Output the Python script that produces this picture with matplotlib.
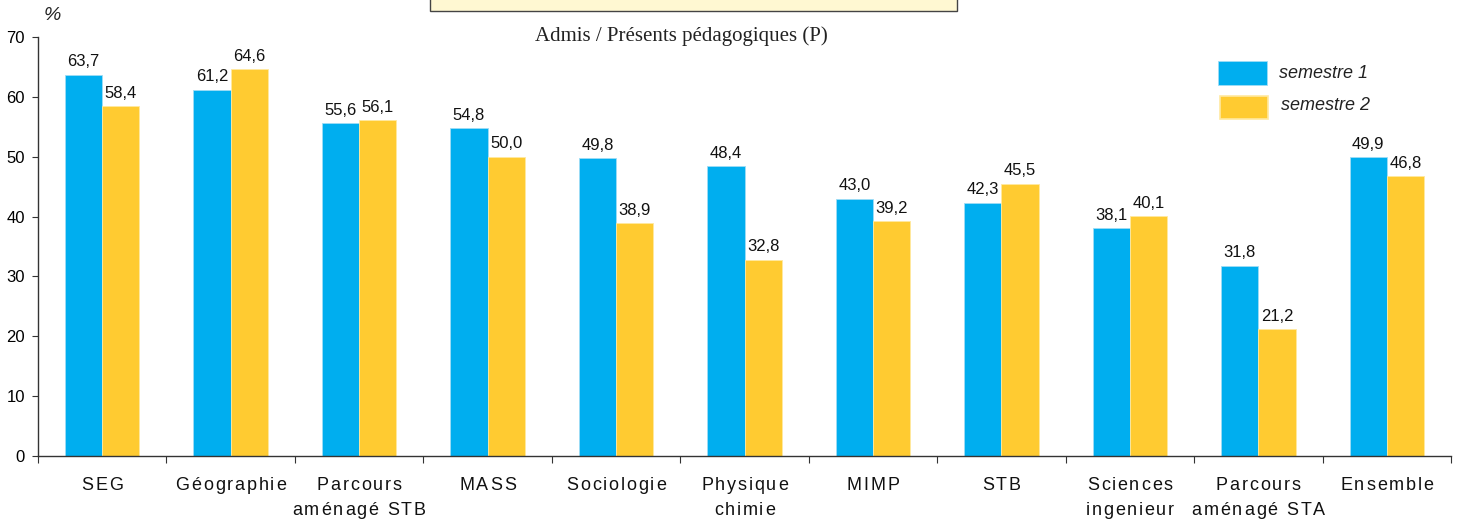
import matplotlib
matplotlib.use("Agg")
import numpy as np
import matplotlib.pyplot as plt
from matplotlib.patches import Rectangle
from matplotlib.font_manager import FontProperties
from matplotlib.textpath import TextToPath
from matplotlib.transforms import ScaledTranslation

BLUE = "#00aeef"
YELLOW = "#ffcb31"
AXIS = "#333333"

categories = ["SEG", "Géographie", "Parcours\naménagé STB", "MASS", "Sociologie",
              "Physique\nchimie", "MIMP", "STB", "Sciences\ningenieur",
              "Parcours\naménagé STA", "Ensemble"]
sem1 = [63.7, 61.2, 55.6, 54.8, 49.8, 48.4, 43.0, 42.3, 38.1, 31.8, 49.9]
sem2 = [58.4, 64.6, 56.1, 50.0, 38.9, 32.8, 39.2, 45.5, 40.1, 21.2, 46.8]
yticks = [0, 10, 20, 30, 40, 50, 60, 70]

plt.rcParams["font.family"] = ["Liberation Sans", "DejaVu Sans"]

W, H = 1458, 521
fig = plt.figure(figsize=(W / 100, H / 100), dpi=100)
ax = fig.add_axes([38 / W, 1 - 456 / H, (1451 - 38) / W, (456 - 37) / H])

x = np.arange(len(categories))
bw = 0.29
ax.bar(x - bw / 2, sem1, bw, color=BLUE, edgecolor="#9fdcf5", linewidth=0.6)
ax.bar(x + bw / 2, sem2, bw, color=YELLOW, edgecolor="#ffe9a0", linewidth=0.6)


def fmt(v):
    return f"{v:.1f}".replace(".", ",")


for xi, v in zip(x, sem1):
    ax.annotate(fmt(v), (xi - bw / 2, v), xytext=(0, 6.0), textcoords="offset points",
                ha="center", va="baseline", fontsize=12, color="#111111")
for xi, v in zip(x, sem2):
    ax.annotate(fmt(v), (xi + bw / 2, v), xytext=(0, 6.0), textcoords="offset points",
                ha="center", va="baseline", fontsize=12, color="#111111")

ax.set_xlim(-0.5, len(categories) - 0.5)
ax.set_ylim(0, 70)
ax.set_yticks(yticks)
ax.set_yticklabels([str(t) for t in yticks], fontsize=12)
ax.set_xticks(np.arange(len(categories) + 1) - 0.5)
ax.set_xticklabels([])
ax.tick_params(axis="x", length=5, color=AXIS, direction="out")
ax.tick_params(axis="y", length=4.5, color=AXIS, direction="out", pad=5)
for s in ["top", "right"]:
    ax.spines[s].set_visible(False)
for s in ["left", "bottom"]:
    ax.spines[s].set_color(AXIS)
    ax.spines[s].set_linewidth(1.0)

# category labels with letter spacing (tracking)
prop = FontProperties(family="Liberation Sans", size=13)
t2p = TextToPath()
track = 1.3  # points between letters
line_dy = [-21.6, -38.9]  # points below the x axis
base = ax.get_xaxis_transform()
for xi, lab in zip(x, categories):
    for li, line in enumerate(lab.split("\n")):
        widths = [t2p.get_text_width_height_descent(c, prop, ismath=False)[0] for c in line]
        total = sum(widths) + track * (len(line) - 1)
        pos = -total / 2
        for c, w in zip(line, widths):
            tr = base + ScaledTranslation(pos / 72, line_dy[li] / 72, fig.dpi_scale_trans)
            ax.text(xi, 0, c, transform=tr, ha="left", va="center",
                    fontproperties=prop, color="#111111", clip_on=False)
            pos += w + track

# "%" unit label
fig.text(52 / W, 1 - 15 / H, "%", ha="center", va="center", fontsize=14,
         style="italic", color="#222222")

# title
fig.text(681 / W, 1 - 36 / H, "Admis / Présents pédagogiques (P)", ha="center",
         va="center", fontsize=15, family=["Liberation Serif", "DejaVu Serif"],
         color="#222222")

# cut-off box at the top
fig.patches.append(Rectangle((430 / W, 1 - 11 / H), (957 - 430) / W, 20 / H,
                             transform=fig.transFigure, facecolor="#fff8d2",
                             edgecolor="#444444", linewidth=1.0))

# legend
fig.patches.append(Rectangle((1218 / W, 1 - 85 / H), 49 / W, 24 / H,
                             transform=fig.transFigure, facecolor=BLUE,
                             edgecolor="#9fdcf5", linewidth=0.6))
fig.patches.append(Rectangle((1220 / W, 1 - 119 / H), 48 / W, 23 / H,
                             transform=fig.transFigure, facecolor=YELLOW,
                             edgecolor="#ffe9a0", linewidth=1.2))
fig.text(1279 / W, 1 - 73 / H, "semestre 1", ha="left", va="center", fontsize=13,
         style="italic", color="#222222")
fig.text(1281 / W, 1 - 106 / H, "semestre 2", ha="left", va="center", fontsize=13,
         style="italic", color="#222222")

fig.savefig("out.png", dpi=100, facecolor="white")
